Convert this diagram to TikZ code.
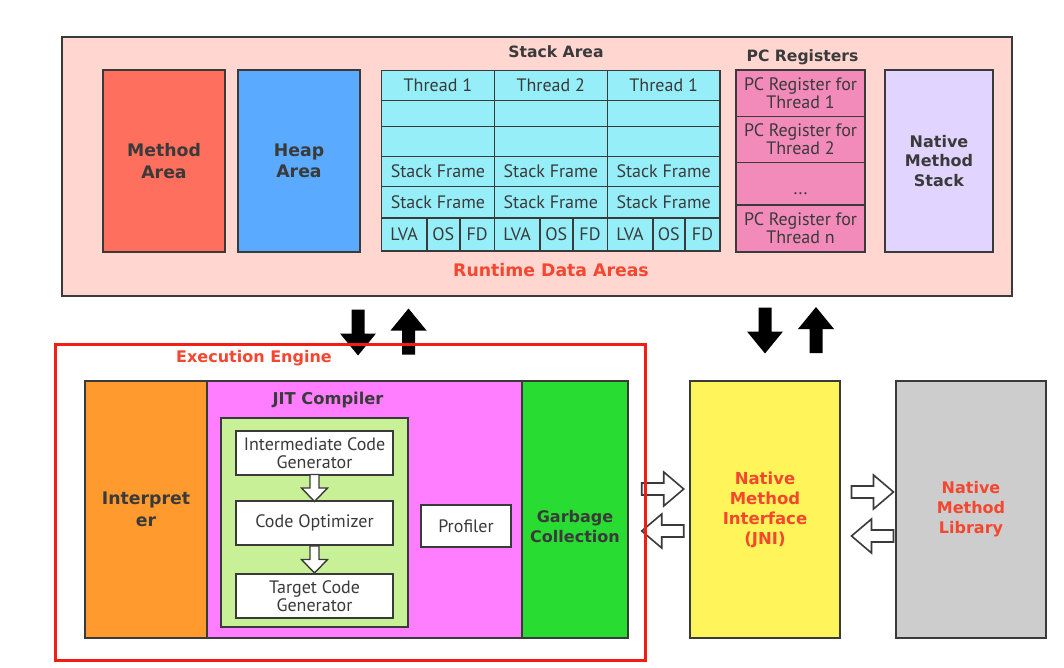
\documentclass[tikz,border=0pt]{standalone}
\usepackage{fontspec}
\setmainfont{PT Sans}
\newfontfamily\bfam{DejaVu Sans}
\usetikzlibrary{calc}
\definecolor{linec}{HTML}{3A3A3A}
\definecolor{rdabg}{HTML}{FFD6D0}
\definecolor{methodc}{HTML}{FF6F5E}
\definecolor{heapc}{HTML}{5AAAFF}
\definecolor{stackc}{HTML}{96EEF8}
\definecolor{pcc}{HTML}{F38BBA}
\definecolor{nmsc}{HTML}{E1D4FF}
\definecolor{labred}{HTML}{F5462F}
\definecolor{interpc}{HTML}{FF9A2E}
\definecolor{jitc}{HTML}{FF7EFF}
\definecolor{lgreenc}{HTML}{C8F096}
\definecolor{gcc}{HTML}{28DC32}
\definecolor{jnic}{HTML}{FFF55A}
\definecolor{libc}{HTML}{CDCDCD}
\definecolor{framered}{HTML}{F01E14}
\definecolor{textc}{HTML}{3A3A3A}
\newcommand\blk[7]{\node[#6, minimum width={(#4-#2)*1pt}, minimum height={(#5-#3)*1pt}] (#1) at ({(#2+#4)/2},{(#3+#5)/2}) {#7};}
\tikzset{
  area/.style={draw=linec, line width=2pt, inner sep=0pt, outer sep=0pt, align=center, text=textc,
    font=\bfam\bfseries\fontsize{16}{20}\selectfont},
  bigarea/.style={area, font=\bfam\bfseries\fontsize{17.3}{21.5}\selectfont},
  cellbox/.style={draw=linec, line width=1.6pt, fill=stackc, inner sep=0pt, outer sep=0pt, align=center,
    text=textc, font=\fontsize{18}{18}\selectfont},
  pcbox/.style={cellbox, fill=pcc},
  wbox/.style={cellbox, fill=white},
  titlelab/.style={text=textc, font=\bfam\bfseries\fontsize{15.6}{18}\selectfont, inner sep=0pt},
  redlab/.style={text=labred, font=\bfam\bfseries\fontsize{16}{20}\selectfont, inner sep=0pt, align=center},
  blkarrow/.pic={\fill[black] (-6.5,-23) -- (6.5,-23) -- (6.5,1) -- (18,1) -- (0,23) -- (-18,1) -- (-6.5,1) -- cycle;},
  harrow/.pic={\draw[draw=linec, line width=1.6pt, fill=white, line join=miter]
    (-21,-6) -- (1,-6) -- (1,-17) -- (21,0) -- (1,17) -- (1,6) -- (-21,6) -- cycle;},
  varrow/.pic={\draw[draw=linec, line width=1.4pt, fill=white, line join=miter]
    (-4.5,-13.5) -- (-4.5,0) -- (-13,0) -- (0,13.5) -- (13,0) -- (4.5,0) -- (4.5,-13.5) -- cycle;}
}
\begin{document}
\begin{tikzpicture}[x=1pt,y=-1pt]
\useasboundingbox (0,0) rectangle (1064,668);
\fill[white] (0,0) rectangle (1064,668);
% Runtime data areas
\blk{rda}{62}{37}{1012}{296}{area, fill=rdabg}{}
\blk{method}{103}{70}{225}{252}{bigarea, fill=methodc}{Method\\Area}
\blk{heap}{238}{70}{360}{252}{bigarea, fill=heapc}{Heap\\Area}
\node[titlelab] (stacktitle) at (556,51.5) {Stack Area};
\foreach \xa/\xb/\c/\t/\la/\lb in {381.5/494.3/1/Thread 1/426.7/460, 494.3/607.3/2/Thread 2/540/572.7, 607.3/720/3/Thread 1/652.7/685}{
  \blk{th\c}{\xa}{70.5}{\xb}{100.7}{cellbox}{\t}
  \blk{ea\c}{\xa}{100.7}{\xb}{126.7}{cellbox}{}
  \blk{eb\c}{\xa}{126.7}{\xb}{156.7}{cellbox}{}
  \blk{sfa\c}{\xa}{156.7}{\xb}{186.7}{cellbox}{Stack Frame}
  \blk{sfb\c}{\xa}{186.7}{\xb}{218.3}{cellbox}{Stack Frame}
  \blk{lva\c}{\xa}{218.3}{\la}{250.7}{cellbox}{LVA}
  \blk{os\c}{\la}{218.3}{\lb}{250.7}{cellbox}{OS}
  \blk{fd\c}{\lb}{218.3}{\xb}{250.7}{cellbox}{FD}
}
\node[titlelab] (pctitle) at (802.5,57) {PC Registers};
\blk{pc1}{736}{70}{865}{116.7}{pcbox}{PC Register for\\Thread 1}
\blk{pc2}{736}{116.7}{865}{162.7}{pcbox}{PC Register for\\Thread 2}
\blk{pc3}{736}{162.7}{865}{205}{pcbox}{}
\node[anchor=base, inner sep=0pt, text=textc, font=\fontsize{18}{18}\selectfont] (pcdots) at (800.5,195) {...};
\blk{pc4}{736}{205}{865}{251.7}{pcbox}{PC Register for\\Thread n}
\blk{nms}{885}{70}{993}{252}{area, fill=nmsc, font=\bfam\bfseries\fontsize{16}{19.5}\selectfont}{Native\\Method\\Stack}
\node[redlab, font=\bfam\bfseries\fontsize{17.3}{20}\selectfont] (rdalab) at (551,270) {Runtime Data Areas};
% black arrows
\pic at (358,332.5) {blkarrow};
\pic[rotate=180] at (408.5,331.5) {blkarrow};
\pic at (765,330.5) {blkarrow};
\pic[rotate=180] at (816,330) {blkarrow};
% execution engine
\blk{interp}{85}{381}{207}{638}{bigarea, fill=interpc}{Interpret\\er}
\blk{jit}{207}{381}{522}{638}{area, fill=jitc}{}
\blk{gc}{522}{381}{628}{638}{area, fill=gcc}{}
\node[area, draw=none, fill=none] (gclab) at (575,527) {Garbage\\Collection};
\node[titlelab, font=\bfam\bfseries\fontsize{16.3}{18}\selectfont] (jitlab) at (328,400) {JIT Compiler};
\blk{jitin}{221}{418}{408}{627}{area, fill=lgreenc}{}
\blk{icg}{236}{431}{393}{475}{wbox}{Intermediate Code\\Generator}
\blk{co}{236}{501}{393}{545}{wbox}{Code Optimizer}
\blk{tcg}{236}{574}{393}{618}{wbox}{Target Code\\Generator}
\blk{prof}{421}{505}{511}{547}{wbox}{Profiler}
\pic at ($(icg.south)!0.5!(co.north)$) {varrow};
\pic at ($(co.south)!0.5!(tcg.north)$) {varrow};
% JNI and library
\blk{jni}{690}{381}{840}{638}{area, fill=jnic, text=labred, font=\bfam\bfseries\fontsize{16.5}{20}\selectfont}{Native\\Method\\Interface\\(JNI)}
\blk{lib}{896}{381}{1046}{638}{area, fill=libc, text=labred}{Native\\Method\\Library}
\pic at ($($(gc.east)!0.56!(jni.west)$)+(0,-20.5)$) {harrow};
\pic[rotate=180] at ($($(gc.east)!0.56!(jni.west)$)+(0,21.5)$) {harrow};
\pic at ($($(jni.east)!0.58!(lib.west)$)+(0,-17.5)$) {harrow};
\pic[rotate=180] at ($($(jni.east)!0.58!(lib.west)$)+(0,26.5)$) {harrow};
% red frame
\blk{ee}{55}{344}{645}{660}{draw=framered, line width=3pt, inner sep=0pt}{}
\node[redlab] (eelab) at (254,358) {Execution Engine};
\end{tikzpicture}
\end{document}
